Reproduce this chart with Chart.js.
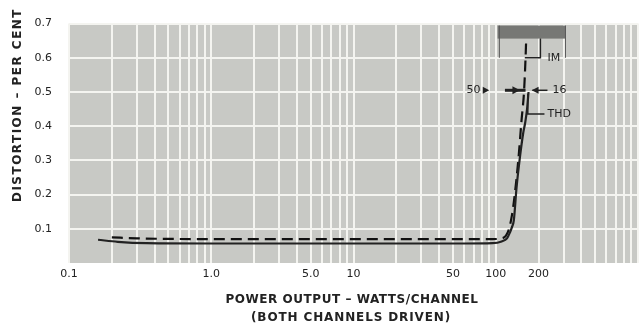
<!DOCTYPE html>
<html>
<head>
<meta charset="utf-8">
<script src="https://cdn.jsdelivr.net/npm/chart.js@4.4.0/dist/chart.umd.min.js"></script>
<style>
  html, body { margin: 0; padding: 0; background: #fff; }
</style>
</head>
<body>
<canvas id="graph" width="643" height="328"></canvas>
<script>
// axis ticks
const xTickValues = [0.1, 1, 5, 10, 50, 100, 200];
const xTickLabels = ['0.1', '1.0', '5.0', '10', '50', '100', '200'];
const yTickValues = [0.1, 0.2, 0.3, 0.4, 0.5, 0.6, 0.7];

// THD (solid) - watts/channel vs per cent
const thdPower = [0.16, 0.22, 0.35, 1, 5, 20, 60, 95, 110, 120, 126, 130, 134, 140, 148, 156, 161, 166, 170];
const thdDist  = [0.068, 0.062, 0.058, 0.057, 0.057, 0.057, 0.057, 0.058, 0.063, 0.072, 0.09, 0.105, 0.125, 0.22, 0.31, 0.38, 0.41, 0.45, 0.5];

// IM (dashed)
const imPower = [0.2, 0.3, 1, 5, 20, 60, 95, 110, 118, 124, 130, 136, 144, 152, 158, 162, 165];
const imDist  = [0.075, 0.072, 0.07, 0.07, 0.07, 0.07, 0.07, 0.072, 0.08, 0.1, 0.14, 0.2, 0.3, 0.42, 0.5, 0.6, 0.7];

const style = {
  ink: '#222',
  plotBg: '#c8c9c5',
  grid: '#f4f4f0',
  font: '"DejaVu Sans", sans-serif'
};

// grid lines for the log axis: 1..9 in each decade
let xGrid = [];
[0.1, 1, 10, 100].forEach(d => {
  for (let n = 1; n < 10; n++) xGrid.push(+(d * n).toPrecision(3));
});
xGrid.push(1000);

const toPoints = (xs, ys) => xs.map((x, i) => ({ x: x, y: ys[i] }));

// draw text stretched with letter spacing to a given width
const fitText = (ctx, text, x, y, width) => {
  ctx.letterSpacing = '0px';
  const w = ctx.measureText(text).width;
  ctx.letterSpacing = ((width - w) / text.length) + 'px';
  ctx.fillText(text, x, y);
};

const plotBackground = {
  id: 'plotBackground',
  beforeDraw(chart) {
    const { ctx, chartArea: a } = chart;
    ctx.save();
    ctx.fillStyle = style.plotBg;
    ctx.fillRect(a.left, a.top, a.right - a.left, a.bottom - a.top);
    ctx.restore();
  }
};

// bracket labels and arrows drawn on top of the curves
const annotations = {
  id: 'annotations',
  afterDatasetsDraw(chart) {
    const { ctx } = chart;
    const xs = chart.scales.x, ys = chart.scales.y;
    const px = v => xs.getPixelForValue(v);
    const py = v => ys.getPixelForValue(v);
    ctx.save();
    ctx.strokeStyle = style.ink;
    ctx.fillStyle = style.ink;
    ctx.font = '11px ' + style.font;
    ctx.textBaseline = 'middle';

    // pasted label frame at the top
    const top = py(0.7) + 2;
    ctx.fillStyle = '#777875';
    ctx.fillRect(px(103), top, px(309) - px(103), 13);
    ctx.lineWidth = 1;
    ctx.strokeStyle = '#555';
    ctx.beginPath();
    ctx.moveTo(px(106), top); ctx.lineTo(px(106), py(0.6));
    ctx.moveTo(px(309), top); ctx.lineTo(px(309), py(0.6));
    ctx.stroke();
    ctx.strokeStyle = style.ink;
    ctx.fillStyle = style.ink;

    // IM bracket
    ctx.lineWidth = 1.5;
    ctx.beginPath();
    ctx.moveTo(px(206), top + 13);
    ctx.lineTo(px(206), py(0.6));
    ctx.lineTo(px(160), py(0.6));
    ctx.stroke();
    ctx.textAlign = 'left';
    ctx.fillText('IM', px(231), py(0.6));

    // THD bracket
    ctx.beginPath();
    ctx.moveTo(px(168), py(0.495));
    ctx.lineTo(px(168), py(0.436));
    ctx.lineTo(px(220), py(0.436));
    ctx.stroke();
    ctx.fillText('THD', px(231), py(0.436));

    // 50 arrow
    const y5 = py(0.505);
    ctx.textAlign = 'right';
    ctx.fillText('50', px(78), y5);
    ctx.beginPath();
    ctx.moveTo(px(81), y5 - 3.5);
    ctx.lineTo(px(90), y5);
    ctx.lineTo(px(81), y5 + 3.5);
    ctx.fill();

    // bar on the curves
    ctx.lineWidth = 3;
    ctx.beginPath();
    ctx.moveTo(px(116), y5);
    ctx.lineTo(px(162), y5);
    ctx.stroke();
    ctx.beginPath();
    ctx.moveTo(px(131), y5 - 4);
    ctx.lineTo(px(148), y5);
    ctx.lineTo(px(131), y5 + 4);
    ctx.fill();

    // 16 arrow
    ctx.lineWidth = 1.5;
    ctx.beginPath();
    ctx.moveTo(px(181), y5);
    ctx.lineTo(px(231), y5);
    ctx.stroke();
    ctx.beginPath();
    ctx.moveTo(px(179), y5);
    ctx.lineTo(px(200), y5 - 3.5);
    ctx.lineTo(px(200), y5 + 3.5);
    ctx.fill();
    ctx.textAlign = 'left';
    ctx.fillText('16', px(251), y5);
    ctx.restore();
  }
};

// axis titles placed like the printed chart
const axisTitles = {
  id: 'axisTitles',
  afterDraw(chart) {
    const { ctx } = chart;
    ctx.save();
    ctx.fillStyle = style.ink;
    ctx.font = 'bold 12px ' + style.font;
    ctx.textAlign = 'center';
    ctx.textBaseline = 'middle';
    fitText(ctx, 'POWER OUTPUT – WATTS/CHANNEL', 352, 300, 253);
    fitText(ctx, '(BOTH CHANNELS DRIVEN)', 351, 318, 200);
    ctx.translate(17.5, 105);
    ctx.rotate(-Math.PI / 2);
    fitText(ctx, 'DISTORTION – PER CENT', 0, 0, 194);
    ctx.restore();
  }
};

const data = {
  datasets: [{
    label: 'THD',
    data: toPoints(thdPower, thdDist),
    borderColor: style.ink,
    borderWidth: 2.2,
    cubicInterpolationMode: 'monotone',
    pointRadius: 0,
    fill: false
  }, {
    label: 'IM',
    data: toPoints(imPower, imDist),
    borderColor: '#111',
    borderWidth: 2.2,
    borderDash: [11, 6],
    cubicInterpolationMode: 'monotone',
    pointRadius: 0,
    fill: false
  }]
};

const config = {
  type: 'line',
  data,
  options: {
    responsive: false,
    animation: false,
    devicePixelRatio: 1,
    layout: { padding: { top: 15, right: 0, left: 0, bottom: 0 } },
    plugins: {
      legend: { display: false },
      tooltip: { enabled: false }
    },
    scales: {
      x: {
        type: 'logarithmic',
        min: 0.1,
        max: 1000,
        border: { display: false },
        grid: { color: style.grid, lineWidth: 2, drawTicks: false },
        afterBuildTicks: (scale) => { scale.ticks = xGrid.map(v => ({ value: v })); },
        afterFit: (scale) => { scale.height = 65; },
        ticks: {
          autoSkip: false,
          maxRotation: 0,
          padding: 5,
          color: style.ink,
          font: { family: style.font, size: 11 },
          callback: (value) => {
            const i = xTickValues.findIndex(t => Math.abs(t - value) < 1e-6 * t);
            return i >= 0 ? xTickLabels[i] : '';
          }
        }
      },
      y: {
        min: 0,
        max: 0.7,
        border: { display: false },
        grid: { color: style.grid, lineWidth: 2, drawTicks: false },
        afterBuildTicks: (scale) => { scale.ticks = yTickValues.map(v => ({ value: v })); },
        afterFit: (scale) => { scale.width = 69; },
        ticks: {
          padding: 17,
          color: style.ink,
          font: { family: style.font, size: 11 },
          callback: (value) => value.toFixed(1)
        }
      }
    }
  },
  plugins: [plotBackground, annotations, axisTitles]
};

const graph = new Chart(document.getElementById('graph'), config);
</script>
</body>
</html>
